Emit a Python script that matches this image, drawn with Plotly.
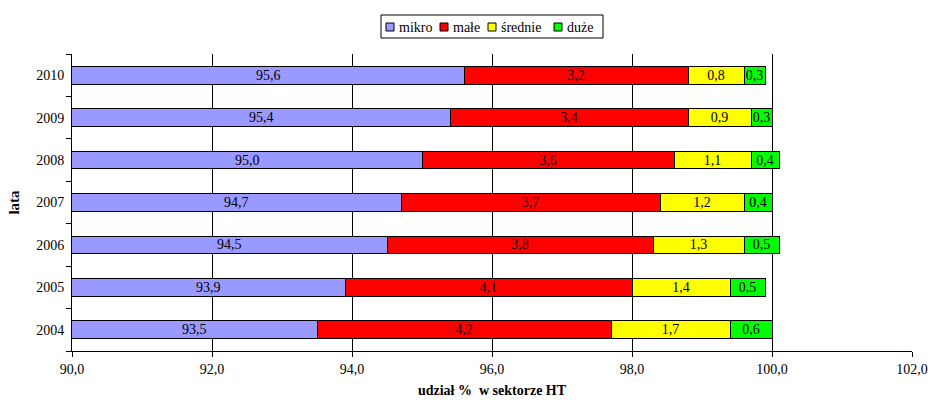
import plotly.graph_objects as go

years = ["2004", "2005", "2006", "2007", "2008", "2009", "2010"]
mikro = [93.5, 93.9, 94.5, 94.7, 95.0, 95.4, 95.6]
male = [4.2, 4.1, 3.8, 3.7, 3.6, 3.4, 3.2]
srednie = [1.7, 1.4, 1.3, 1.2, 1.1, 0.9, 0.8]
duze = [0.6, 0.5, 0.5, 0.4, 0.4, 0.3, 0.3]

series = [
    ("mikro", mikro, "#9999FF"),
    ("małe", male, "#FF0000"),
    ("średnie", srednie, "#FFFF00"),
    ("duże", duze, "#00FF00"),
]

FONT = "Liberation Serif"
X_MIN, X_MAX = 90, 102
W, H = 931, 403
M = dict(l=72, r=19, t=54, b=52)
PW, PH = W - M["l"] - M["r"], H - M["t"] - M["b"]


def fmt(v):
    return f"{v:.1f}".replace(".", ",")


def px(x):
    return (x - M["l"]) / PW


def py(y):
    return (H - M["b"] - y) / PH


fig = go.Figure()
for name, vals, color in series:
    first = name == "mikro"
    fig.add_trace(go.Bar(
        y=years, x=vals, name=name, orientation="h",
        marker=dict(color=color, line=dict(color="black", width=1)),
        text=[fmt(v) for v in vals],
        textposition="none" if first else "inside",
        insidetextanchor="middle",
        constraintext="none",
        textfont=dict(family=FONT, size=14, color="black"),
        showlegend=False,
    ))

# the first segment starts below the axis minimum, so its label sits
# in the middle of the visible part (y given as category index)
for i, v in enumerate(mikro):
    fig.add_annotation(
        x=(X_MIN + v) / 2, y=i, text=fmt(v), showarrow=False,
        font=dict(family=FONT, size=14, color="black"),
    )

# compact boxed legend above the plot
fig.add_shape(type="rect", xref="paper", yref="paper",
              x0=px(381), x1=px(603), y0=py(38), y1=py(15),
              line=dict(color="black", width=1), fillcolor="white")
legend_x = [386, 440, 488, 554]
for (name, _, color), lx in zip(series, legend_x):
    fig.add_shape(type="rect", xref="paper", yref="paper",
                  x0=px(lx), x1=px(lx + 8), y0=py(31), y1=py(23),
                  line=dict(color="black", width=1), fillcolor=color)
    fig.add_annotation(xref="paper", yref="paper", x=px(lx + 11), y=py(27),
                       xanchor="left", yanchor="middle", text=name,
                       showarrow=False, font=dict(family=FONT, size=14, color="black"))

fig.update_layout(
    barmode="stack",
    bargap=0.58,
    width=W, height=H,
    margin=M,
    plot_bgcolor="white", paper_bgcolor="white",
    font=dict(family=FONT, size=14, color="black"),
    showlegend=False,
    xaxis=dict(
        range=[X_MIN, X_MAX], automargin=False,
        tickvals=list(range(X_MIN, X_MAX + 1, 2)),
        ticktext=[fmt(t) for t in range(X_MIN, X_MAX + 1, 2)],
        showgrid=True, gridcolor="black", gridwidth=1,
        showline=True, linecolor="black", linewidth=1,
        ticks="outside", ticklen=5, tickcolor="black",
        zeroline=False,
        title=dict(text="<b>udział %  w sektorze HT</b>", font=dict(family=FONT, size=14), standoff=9),
        tickfont=dict(family=FONT, size=14),
    ),
    yaxis=dict(
        type="category", automargin=False,
        categoryorder="array", categoryarray=years,
        range=[-0.5, len(years) - 0.5],
        showline=True, linecolor="black", linewidth=1,
        ticks="outside", ticklen=5, tickcolor="black", tickson="boundaries",
        ticklabelstandoff=4,
        title=dict(text="<b>lata</b>", font=dict(family=FONT, size=15), standoff=12),
        tickfont=dict(family=FONT, size=14),
    ),
)

fig.write_html("out.html")
